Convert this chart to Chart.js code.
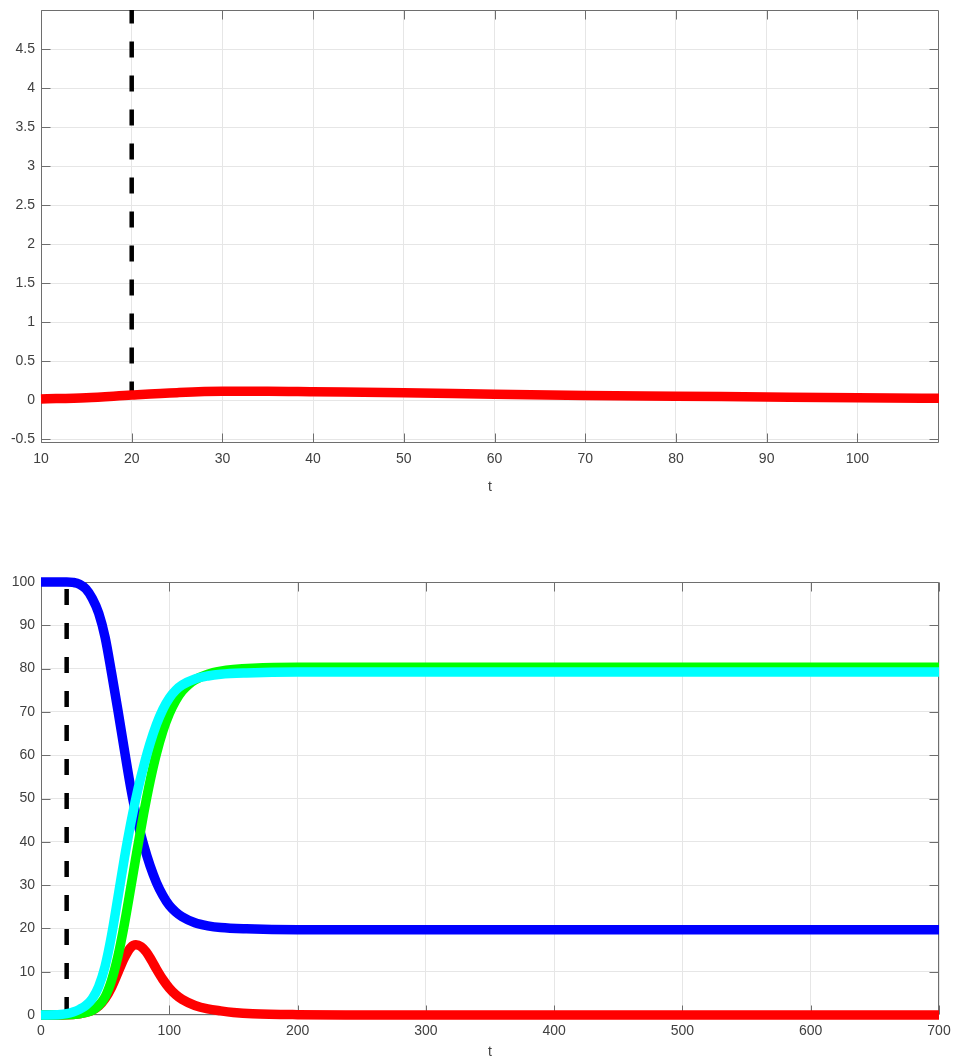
<!DOCTYPE html>
<html>
<head>
<meta charset="utf-8">
<script src="https://cdn.jsdelivr.net/npm/chart.js@4.4.1/dist/chart.umd.min.js"></script>
<style>
  html, body { margin: 0; padding: 0; background: #fff; }
  #wrap { position: relative; width: 953px; height: 1061px; }
  canvas { position: absolute; left: 0; }
  #c1 { top: 0; }
  #c2 { top: 520px; }
</style>
</head>
<body>
<div id="wrap">
  <canvas id="c1" width="953" height="520"></canvas>
  <canvas id="c2" width="953" height="541"></canvas>
</div>
<script>
// ---------- data ----------
// top panel: red series, t from 10 to 109
const topT   = [10, 15, 20, 25, 30, 35, 40, 50, 60, 70, 80, 90, 100, 109];
const topRed = [0.015, 0.03, 0.065, 0.095, 0.112, 0.113, 0.107, 0.095, 0.075, 0.06, 0.05, 0.04, 0.03, 0.022];
const topXTicks = [10, 20, 30, 40, 50, 60, 70, 80, 90, 100];
const topYTicks = [-0.5, 0, 0.5, 1, 1.5, 2, 2.5, 3, 3.5, 4, 4.5];
const topXRange = [10, 109];
const topYRange = [-0.55, 5.0];

// bottom panel
const blueT = [0, 20, 25, 30, 35, 40, 45, 50, 55, 60, 65, 70, 75, 80, 85, 90, 95, 100, 105, 110, 120, 130, 140, 160, 200, 700];
const blueV = [100, 100, 99.9, 99.5, 98.4, 96.2, 92.8, 87.2, 79.0, 70.3, 61.2, 52.4, 45.0, 39.3, 34.5, 30.6, 27.6, 25.3, 23.8, 22.7, 21.3, 20.6, 20.2, 19.9, 19.7, 19.7];

const cyanT = [0, 15, 20, 25, 30, 35, 40, 45, 50, 55, 60, 65, 70, 75, 80, 85, 90, 95, 100, 105, 110, 120, 130, 140, 160, 200, 700];
const cyanV = [0, 0.1, 0.3, 0.7, 1.3, 2.2, 3.8, 6.6, 11.3, 18.4, 27.2, 36.2, 44.3, 51.4, 57.4, 62.7, 67.1, 70.6, 73.2, 75.0, 76.2, 77.6, 78.3, 78.7, 79.0, 79.2, 79.2];

const greenT = [0, 20, 30, 35, 40, 45, 50, 55, 60, 65, 70, 75, 80, 85, 90, 95, 100, 105, 110, 115, 120, 130, 140, 150, 165, 200, 700];
const greenV = [0, 0.05, 0.3, 0.6, 1.1, 2.2, 4.2, 8.0, 13.6, 21.0, 29.5, 38.2, 46.5, 54.0, 60.4, 65.6, 69.6, 72.6, 74.8, 76.3, 77.4, 78.7, 79.4, 79.8, 80.1, 80.3, 80.3];

const redT = [0, 20, 30, 35, 40, 45, 50, 55, 60, 65, 70, 74, 78, 82, 86, 90, 95, 100, 105, 110, 120, 130, 140, 150, 165, 200, 250, 300, 700];
const redV = [0, 0.05, 0.3, 0.6, 1.1, 2.1, 3.8, 6.4, 9.8, 13.2, 15.6, 16.2, 15.8, 14.6, 12.7, 10.6, 8.2, 6.2, 4.7, 3.6, 2.2, 1.4, 0.95, 0.6, 0.3, 0.08, 0.02, 0, 0];

const botXTicks = [0, 100, 200, 300, 400, 500, 600, 700];
const botYTicks = [0, 10, 20, 30, 40, 50, 60, 70, 80, 90, 100];
const botXRange = [0, 700];
const botYRange = [0, 100];

// vertical dashed marker at t = 20
const markT = 20;

// ---------- helpers ----------
const pts = (xs, ys) => xs.map((x, i) => ({ x: x, y: ys[i] }));
const FONT = { family: '"Liberation Sans", Arial, Helvetica, sans-serif', size: 14 };
const TXT = '#404040';

const boxPlugin = {
  id: 'boxTicks',
  beforeDatasetsDraw(chart) {
    const { ctx, chartArea: a, scales } = chart;
    const xs = scales.x, ys = scales.y;
    ctx.save();
    ctx.strokeStyle = '#6e6e6e';
    ctx.lineWidth = 1;
    const L = Math.round(a.left) + 0.5, R = Math.round(a.right) - 0.5;
    const T = Math.round(a.top) + 0.5, B = Math.round(a.bottom) - 0.5;
    ctx.beginPath();
    ctx.rect(L, T, R - L, B - T);
    ctx.stroke();
    const tl = 9;
    ctx.beginPath();
    xs.ticks.forEach(t => {
      const p = Math.round(xs.getPixelForValue(t.value)) + 0.5;
      ctx.moveTo(p, B); ctx.lineTo(p, B - tl);
      ctx.moveTo(p, T); ctx.lineTo(p, T + tl);
    });
    ys.ticks.forEach(t => {
      const p = Math.round(ys.getPixelForValue(t.value)) + 0.5;
      ctx.moveTo(L, p); ctx.lineTo(L + tl, p);
      ctx.moveTo(R, p); ctx.lineTo(R - tl, p);
    });
    ctx.stroke();
    ctx.restore();
  }
};

function makeOptions(xRange, yRange, xTicks, yTicks, xAxisH, titlePadBottom, padTop) {
  return {
    responsive: false,
    animation: false,
    events: [],
    layout: { padding: { left: 0, right: 14, top: padTop, bottom: 0 } },
    plugins: { legend: { display: false }, tooltip: { enabled: false } },
    elements: { point: { radius: 0 } },
    scales: {
      x: {
        type: 'linear',
        min: xRange[0], max: xRange[1],
        afterBuildTicks: s => { s.ticks = xTicks.map(v => ({ value: v })); },
        afterFit: s => { s.height = xAxisH; s.paddingLeft = 0; s.paddingRight = 0; s.paddingTop = 0; s.paddingBottom = 0; },
        ticks: { font: FONT, color: TXT, padding: 8, maxRotation: 0, autoSkip: false, callback: v => String(v) },
        grid: { color: '#e6e6e6', lineWidth: 1, drawTicks: false },
        border: { display: false },
        title: { display: true, text: 't', font: FONT, color: TXT, padding: { top: 0, bottom: titlePadBottom } }
      },
      y: {
        type: 'linear',
        min: yRange[0], max: yRange[1],
        afterBuildTicks: s => { s.ticks = yTicks.map(v => ({ value: v })); },
        afterFit: s => { s.width = 41; s.paddingLeft = 0; s.paddingRight = 0; s.paddingTop = 0; s.paddingBottom = 0; },
        ticks: { font: FONT, color: TXT, padding: 6, autoSkip: false, callback: v => String(v) },
        grid: { color: '#e6e6e6', lineWidth: 1, drawTicks: false },
        border: { display: false }
      }
    }
  };
}

const lineDs = (data, color, w) => ({
  data: data, borderColor: color, backgroundColor: color, borderWidth: w,
  cubicInterpolationMode: 'monotone', fill: false, clip: false,
  borderCapStyle: 'butt', borderJoinStyle: 'round', pointRadius: 0
});
const dashDs = (y0, y1, offset) => ({
  data: [{ x: markT, y: y1 }, { x: markT, y: y0 }], borderColor: '#000', borderWidth: 4.5,
  borderDash: [16, 18], borderDashOffset: offset, fill: false, pointRadius: 0, tension: 0
});

// ---------- top chart ----------
new Chart(document.getElementById('c1'), {
  type: 'line',
  data: { datasets: [
    lineDs(pts(topT, topRed), '#ff0000', 9.5),
    dashDs(0, topYRange[1], 2.5)
  ] },
  options: makeOptions(topXRange, topYRange, topXTicks, topYTicks, 77, 24.6, 10),
  plugins: [boxPlugin]
});

// ---------- bottom chart ----------
new Chart(document.getElementById('c2'), {
  type: 'line',
  data: { datasets: [
    lineDs(pts(cyanT, cyanV), '#00ffff', 9.5),
    lineDs(pts(greenT, greenV), '#00ff00', 9.5),
    lineDs(pts(redT, redV), '#ff0000', 9.5),
    lineDs(pts(blueT, blueV), '#0000ff', 9.5),
    dashDs(0, botYRange[1], 27)
  ] },
  options: makeOptions(botXRange, botYRange, botXTicks, botYTicks, 46, 0, 62),
  plugins: [boxPlugin]
});
</script>
</body>
</html>
